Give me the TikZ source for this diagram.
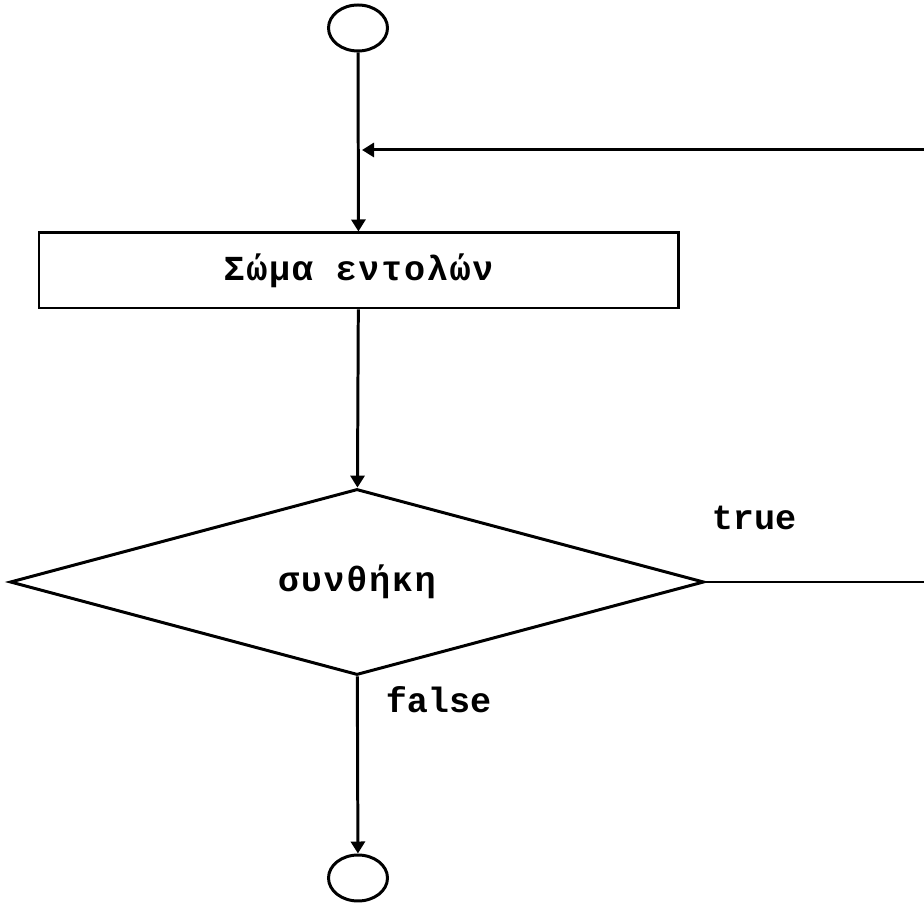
\documentclass[tikz,border=0pt]{standalone}
\usepackage{fontspec}
\setmonofont{Liberation Mono}
\newfontfamily\greekmono[LetterSpace=4.8]{Liberation Mono}
\usepackage{tikz}
\usetikzlibrary{shapes.geometric, arrows.meta, positioning}

\begin{document}
\begin{tikzpicture}[
    terminal/.style={draw, ellipse, line width=1.7pt, minimum width=1.18cm, minimum height=0.92cm, inner sep=0pt},
    body/.style={draw, rectangle, line width=1.7pt, minimum width=12.78cm, minimum height=1.5cm, inner sep=0pt, font=\greekmono\bfseries\fontsize{20}{24}\selectfont},
    cond/.style={draw, diamond, aspect=3.7, line width=1.7pt, minimum width=13.88cm, minimum height=3.72cm, inner sep=0pt, font=\greekmono\bfseries\fontsize{20}{24}\selectfont},
    lbl/.style={font=\ttfamily\bfseries\fontsize{20}{24}\selectfont, inner sep=0pt, anchor=base},
    arr/.style={-{Triangle[length=2.4mm, width=2.8mm]}, line width=1.7pt},
    line/.style={line width=1.7pt},
]
\useasboundingbox (0,0) rectangle (18.48,18.04);

% Start and end
\node[terminal] (start) at (7.16, 17.48) {};
\node[terminal] (stop) at (7.16, 0.48) {};

% Loop body
\node[body] (loopbody) at (7.17, 12.63) {Σώμα εντολών};

% Condition
\node[cond] (test) at (7.14, 6.4) {συνθήκη};

% Loop-back ends (off the right edge)
\coordinate (back) at (18.48, 15.04);
\coordinate (exit) at (18.48, 6.4);
\coordinate (join) at (start |- back);

% Arrows
\draw[arr] (start) -- (loopbody);
\draw[arr] (loopbody) -- (test);
\draw[arr] (test) -- (stop);
\draw[line] (test.east) -- (exit);
\draw[arr, shorten >=0.08cm] (back) -- (join);

% Branch labels
\node[lbl] (truelbl) at (15.08, 7.44) {true};
\node[lbl] (falselbl) at (8.77, 3.80) {false};
\end{tikzpicture}
\end{document}
